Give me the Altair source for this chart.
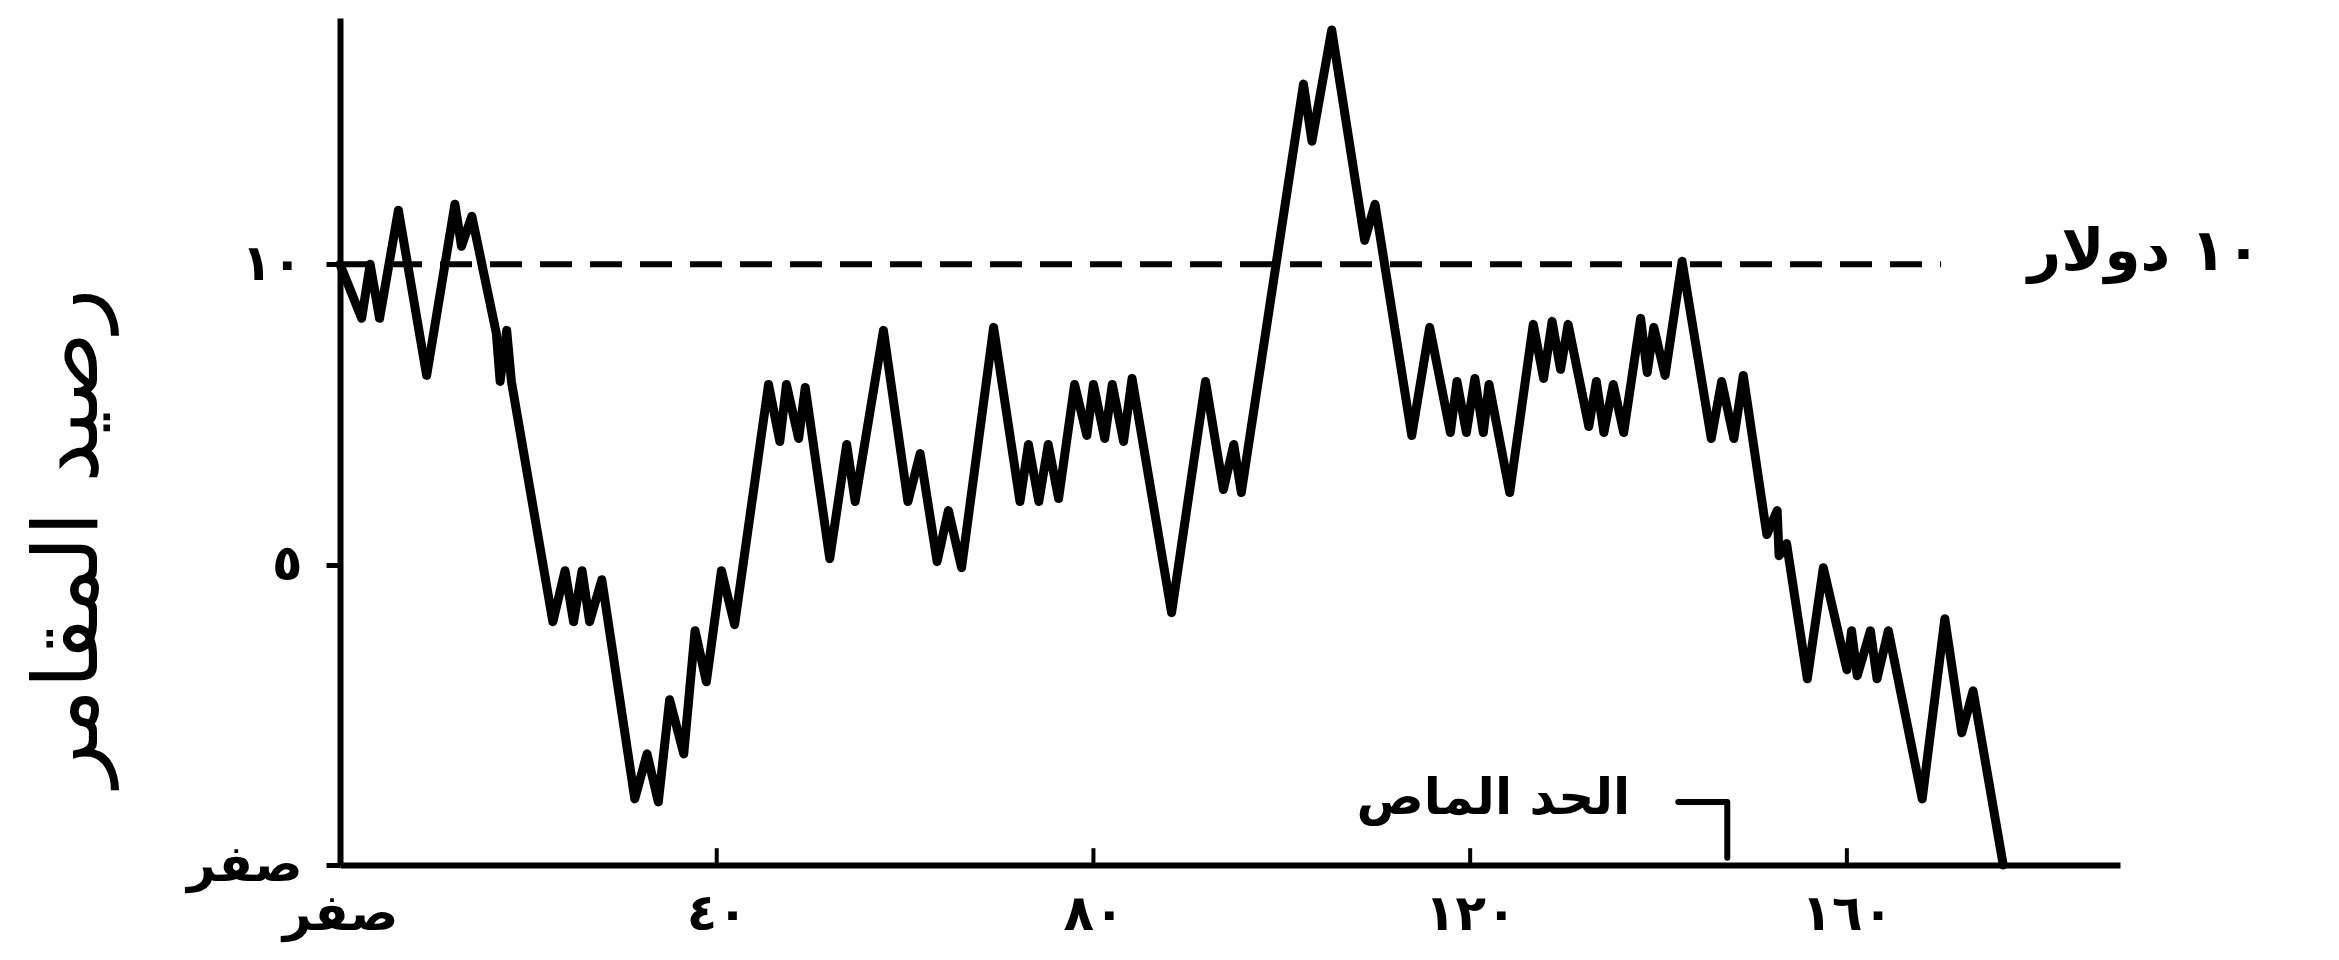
import json
import altair as alt
import pandas as pd

# ---- data -----------------------------------------------------------------
# vertices of the gambler's fortune path (game number, dollars)
walk_x = [0, 2.3, 3.2, 4.2, 6.2, 9.2, 12.2, 12.9, 14.0, 16.6, 17.0, 17.7, 18.2,
          22.6, 23.9, 24.8, 25.7, 26.5, 27.8, 31.3, 32.6, 33.8, 35.0, 36.5, 37.7, 38.9, 40.5, 41.9,
          45.5, 46.7, 47.4, 48.7, 49.4, 52.0, 53.8, 54.7, 57.7, 60.3, 61.6, 63.4, 64.6, 66.0,
          69.4, 72.2, 73.1, 74.2, 75.2, 76.3, 78.0, 79.3, 80.0, 81.2, 82.0, 83.2, 84.1, 88.3,
          91.9, 93.8, 94.9, 95.7,
          102.3, 103.2, 105.3, 108.8, 109.9, 113.8, 115.7, 117.9, 118.6, 119.6, 120.5, 121.4, 122.0, 124.2,
          126.7, 127.8, 128.7, 129.6, 130.4, 132.6, 133.4, 134.2, 135.2, 136.3, 138.1, 138.8, 139.5,
          140.7, 142.5, 145.6, 146.7, 148.0, 149.0,
          151.5, 152.6, 152.8, 153.6, 155.8, 157.5, 160.0, 160.5, 161.1, 162.5, 163.2, 164.4, 168.0,
          170.4, 172.2, 173.4, 176.6]
walk_y = [10.0, 9.1, 10.0, 9.1, 10.9, 8.15, 11.0, 10.3, 10.8, 8.85, 8.05, 8.9, 8.05,
          4.05, 4.9, 4.05, 4.9, 4.05, 4.75, 1.1, 1.85, 1.05, 2.75, 1.85, 3.9, 3.05, 4.9, 4.0,
          8.0, 7.05, 8.0, 7.1, 7.95, 5.1, 7.0, 6.05, 8.9, 6.05, 6.85, 5.05, 5.9, 4.95,
          8.95, 6.05, 7.0, 6.05, 7.0, 6.1, 8.0, 7.15, 8.0, 7.1, 8.0, 7.05, 8.1, 4.2,
          8.05, 6.25, 7.0, 6.2,
          13.0, 12.05, 13.9, 10.4, 11.0, 7.15, 8.95, 7.2, 8.05, 7.2, 8.1, 7.2, 8.0, 6.2,
          9.0, 8.1, 9.05, 8.25, 9.0, 7.3, 8.05, 7.2, 8.0, 7.2, 9.1, 8.2, 8.95,
          8.15, 10.05, 7.1, 8.05, 7.1, 8.15,
          5.5, 5.9, 5.15, 5.35, 3.1, 4.95, 3.25, 3.9, 3.15, 3.9, 3.1, 3.9, 1.1,
          4.1, 2.2, 2.9, 0.0]

x_ticks = [0, 40, 80, 120, 160]
x_tick_labels = ["صفر", "٤٠", "٨٠", "١٢٠", "١٦٠"]
y_ticks = [0, 5, 10]
y_tick_labels = ["صفر", "٥", "١٠"]

goal_value = 10            # the dashed 10-dollar level
goal_span = [0, 170]       # extent of the dashed line along x
goal_label = "١٠ دولار"
goal_label_pos = [204.0, 9.9]

barrier_label = "الحد الماص"
barrier_label_pos = [137.0, 0.85]
pointer_x = [142.1, 147.3, 147.3]
pointer_y = [1.05, 1.05, 0.12]

y_title = "رصيد المقامر"
x_domain = [0, 189]
y_domain = [0, 14.1]

FONT = "DejaVu Sans"

# ---- chart ------------------------------------------------------------------
assert len(walk_x) == len(walk_y)
walk = pd.DataFrame({"x": walk_x, "y": walk_y, "i": range(len(walk_x))})

xs = alt.Scale(domain=x_domain, nice=False, zero=False)
ys = alt.Scale(domain=y_domain, nice=False, zero=False)

x_label_expr = "%s[indexof(%s, datum.value)]" % (
    json.dumps(x_tick_labels, ensure_ascii=False), json.dumps(x_ticks))
y_label_expr = "%s[indexof(%s, datum.value)]" % (
    json.dumps(y_tick_labels, ensure_ascii=False), json.dumps(y_ticks))

x_axis = alt.Axis(values=x_ticks, labelExpr=x_label_expr, tickSize=0, grid=False,
                  domainWidth=6, domainColor="black", labelFontSize=50,
                  labelFont=FONT, labelFontWeight="bold", labelColor="black",
                  labelPadding=24, labelFlush=False, labelBaseline="top", title=None)
y_axis = alt.Axis(values=y_ticks, labelExpr=y_label_expr, tickSize=14, tickWidth=5,
                  tickColor="black", grid=False, domainWidth=6, domainColor="black",
                  labelFontSize=50, labelFont=FONT, labelFontWeight="bold",
                  labelColor="black", labelPadding=24, labelFlush=False,
                  title=y_title, titleFont=FONT, titleFontSize=90,
                  titleFontWeight="normal", titleColor="black", titleAngle=270,
                  titleX=-271, titleY=519, titleAlign="center", titleBaseline="middle")

walk_line = alt.Chart(walk).mark_line(
    color="black", strokeWidth=9, strokeJoin="round", strokeCap="round"
).encode(
    x=alt.X("x:Q", scale=xs, axis=x_axis),
    y=alt.Y("y:Q", scale=ys, axis=y_axis),
    order="i:Q",
)

goal_df = pd.DataFrame({"x": [goal_span[0]], "x2": [goal_span[1]], "y": [goal_value]})
goal_rule = alt.Chart(goal_df).mark_rule(
    color="black", strokeWidth=6, strokeDash=[32, 18]
).encode(x=alt.X("x:Q", scale=xs), x2="x2:Q", y=alt.Y("y:Q", scale=ys))

tick_df = pd.DataFrame({"x": x_ticks[1:], "y": [0] * 4, "y2": [0.28] * 4})
inner_ticks = alt.Chart(tick_df).mark_rule(color="black", strokeWidth=4).encode(
    x=alt.X("x:Q", scale=xs), y=alt.Y("y:Q", scale=ys), y2="y2:Q")

goal_text = alt.Chart(pd.DataFrame({"x": [goal_label_pos[0]], "y": [goal_label_pos[1]],
                                    "t": [goal_label]})).mark_text(
    font=FONT, fontSize=58, fontWeight="bold", align="right", baseline="alphabetic",
    color="black"
).encode(x=alt.X("x:Q", scale=xs), y=alt.Y("y:Q", scale=ys), text="t:N")

barrier_text = alt.Chart(pd.DataFrame({"x": [barrier_label_pos[0]], "y": [barrier_label_pos[1]],
                                       "t": [barrier_label]})).mark_text(
    font=FONT, fontSize=50, fontWeight="bold", align="right", baseline="alphabetic",
    color="black"
).encode(x=alt.X("x:Q", scale=xs), y=alt.Y("y:Q", scale=ys), text="t:N")

pointer = alt.Chart(pd.DataFrame({"x": pointer_x, "y": pointer_y,
                                  "i": range(len(pointer_x))})).mark_line(
    color="black", strokeWidth=6, strokeJoin="round", strokeCap="round"
).encode(x=alt.X("x:Q", scale=xs), y=alt.Y("y:Q", scale=ys), order="i:Q")

chart = alt.layer(goal_rule, inner_ticks, walk_line, goal_text, barrier_text, pointer).properties(
    width=1780, height=847,
    padding={"left": 332, "top": 10, "right": 200, "bottom": 80},
    autosize=alt.AutoSizeParams(type="none"),
    background="white",
).configure_view(stroke=None)

chart.save("out.html", embed_options={"renderer": "svg", "actions": False})
